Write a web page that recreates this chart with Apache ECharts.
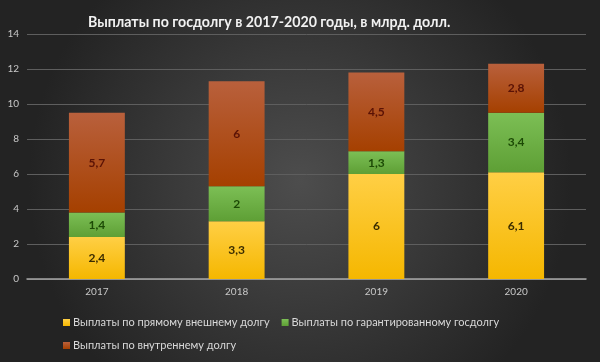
<!DOCTYPE html>
<html><head><meta charset="utf-8">
<script src="https://cdn.jsdelivr.net/npm/echarts@6/dist/echarts.min.js"></script>
<style>html,body{margin:0;padding:0;background:#333}#c{width:600px;height:362px}</style>
</head><body><div id="c"></div>
<script>
const categories = ['2017','2018','2019','2020'];
const directExternal = [2.4, 3.3, 6, 6.1];
const guaranteed = [1.4, 2, 1.3, 3.4];
const domestic = [5.7, 6, 4.5, 2.8];
const seriesNames = ['Выплаты по прямому внешнему долгу','Выплаты по гарантированному госдолгу','Выплаты по внутреннему долгу'];
const yTicks = [0,2,4,6,8,10,12,14];

const chart = echarts.init(document.getElementById('c'));
const grad = (a,b) => new echarts.graphic.LinearGradient(0,0,0,1,[{offset:0,color:a},{offset:1,color:b}]);
const fmt = p => String(p.value).replace('.', ',');
const mk = (name, data, c1, c2, labelColor) => ({
  name, type:'bar', stack:'s', data, barCategoryGap:'60%',
  itemStyle:{color:grad(c1,c2)},
  label:{show:true, position:'inside', formatter:fmt, color:labelColor, fontWeight:'bold', fontSize:12, fontFamily:'Lato'},
  emphasis:{disabled:true}
});
chart.setOption({
  backgroundColor: new echarts.graphic.RadialGradient(0.5,0.5,0.75,[{offset:0,color:'#4d4d4d'},{offset:1,color:'#232323'}]),
  title:{text:'Выплаты по госдолгу в 2017-2020 годы, в млрд. долл.', left:83, top:10,
    textStyle:{color:'#f2f2f2', fontSize:14.2, fontWeight:'bold', fontFamily:'Lato'}},
  grid:{left:27, right:14, top:34, bottom:83},
  xAxis:{type:'category', data:categories,
    axisLine:{lineStyle:{color:'#a6a6a6', width:1.5}}, axisTick:{show:false},
    axisLabel:{color:'#c8c8c8', fontSize:10, margin:8, fontFamily:'Lato'}},
  yAxis:{type:'value', min:0, max:14, interval:2,
    axisLine:{show:false}, axisTick:{show:false},
    splitLine:{lineStyle:{color:'#5e5e5e', width:1}},
    axisLabel:{color:'#c8c8c8', fontSize:10, margin:8, fontFamily:'Lato', formatter:v=>yTicks.includes(v)?String(v):''}},
  legend:{left:58, top:312, width:470, itemWidth:7, itemHeight:7, itemGap:12, icon:'rect',
    textStyle:{color:'#d9d9d9', fontSize:11, fontFamily:'Lato', padding:[0,0,0,-2]},
    data:seriesNames},
  series:[
    mk(seriesNames[0], directExternal, '#ffcf45', '#f5b700', '#3a2c00'),
    mk(seriesNames[1], guaranteed, '#7cbf55', '#5e9f35', '#1c4a05'),
    mk(seriesNames[2], domestic, '#b9603c', '#a54000', '#5a1205')
  ],
  color:['#f5c000','#6ab04a','#b34f20']
});
</script></body></html>
